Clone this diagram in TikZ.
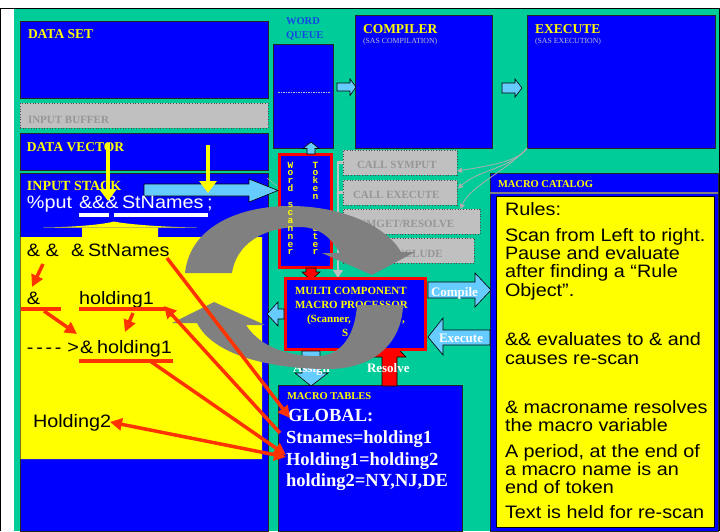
\documentclass[tikz,border=0pt]{standalone}
\usepackage{fontspec}
\setmainfont{Liberation Serif}
\newfontfamily\arial[FakeStretch=1.1]{Liberation Sans}
\newfontfamily\cour{Liberation Mono}
\usetikzlibrary{arrows.meta}
\definecolor{grn}{RGB}{0,204,153}
\definecolor{bl}{RGB}{0,0,255}
\definecolor{yl}{RGB}{255,255,0}
\definecolor{lbl}{RGB}{102,204,255}
\definecolor{rd}{RGB}{255,0,0}
\definecolor{orr}{RGB}{255,51,0}
\definecolor{lg}{RGB}{192,192,192}
\definecolor{gtx}{RGB}{150,150,150}
\definecolor{arcg}{RGB}{128,128,128}
\definecolor{wqc}{RGB}{20,70,230}
\definecolor{subc}{RGB}{190,190,210}
\definecolor{thg}{RGB}{175,175,175}
\newcommand\lettercol[1]{\vtop{\baselineskip=7.9pt\lineskiplimit=-20pt\lineskip=0pt\relax #1}}
\newcommand\lt[1]{\hbox to 6pt{\hss#1\hss}}
\begin{document}
\begin{tikzpicture}[x=1pt,y=-1pt,
  box/.style={draw=black!85,line width=0.8pt,fill=bl,inner sep=0pt,outer sep=0pt,anchor=north west},
  gbox/.style={draw=gray!60!black,dotted,line width=0.7pt,fill=lg,inner sep=0pt,outer sep=0pt,anchor=north west},
  rbox/.style={draw=rd,line width=3.5pt,fill=bl,inner sep=0pt,outer sep=0pt,anchor=north west},
  txt/.style={anchor=base west,inner sep=0pt,outer sep=0pt},
  hdr/.style={txt,text=yl,font=\bfseries\fontsize{13.5}{14}\selectfont},
  shdr/.style={txt,text=yl,font=\bfseries\fontsize{10.5}{11}\selectfont},
  gtxt/.style={txt,text=gtx,font=\bfseries\fontsize{11}{12}\selectfont},
  sub/.style={txt,text=subc,font=\fontsize{7.8}{8}\selectfont},
  tab/.style={txt,text=white,font=\bfseries\fontsize{18.5}{20}\selectfont},
  sans/.style={txt,font=\arial\fontsize{18}{20}\selectfont},
  wlbl/.style={txt,text=white,font=\bfseries\fontsize{13}{14}\selectfont},
  proc/.style={txt,text=yl,font=\bfseries\fontsize{11}{12}\selectfont},
  tokcol/.style={anchor=base,inner sep=0pt,outer sep=0pt,text=yl,font=\cour\bfseries\fontsize{9.5}{10}\selectfont},
  blk/.style={draw=black,line width=0.6pt,fill=lbl},
  redblk/.style={draw=black,line width=0.6pt,fill=rd},
  redln/.style={draw=orr,line width=3.5pt},
  redar/.style={redln,-{Triangle[length=12pt,width=12pt]}},
  redbi/.style={redln,{Triangle[length=12pt,width=12pt]}-{Triangle[length=12pt,width=12pt]}},
  yelar/.style={draw=yl,line width=3.5pt,-{Triangle[length=12pt,width=17pt]}},
  thin gray/.style={draw=thg,line width=0.8pt,-{Triangle[length=5pt,width=5pt]}},
  gcon/.style={draw=lg,line width=2.5pt},
  arcfill/.style={fill=arcg}
]
\useasboundingbox (0,0) rectangle (720,531);
% frame
\fill[white] (0,0) rectangle (720,531);
\fill[grn] (14,9.3) rectangle (718.5,531);
\draw[line width=1.6pt] (0,8.5) -- (720,8.5);
\draw[line width=1pt] (0.5,8.5) -- (0.5,531);
\draw[line width=1pt] (719.4,8.5) -- (719.4,531);

% main boxes
\node[box,minimum width=248,minimum height=77] (dataset) at (20,21) {};
\node[gbox,minimum width=248,minimum height=25] (inbuf) at (20,103) {};
\node[box,minimum width=248,minimum height=37] (datavec) at (20,133) {};
\node[box,minimum width=248,minimum height=358] (instack) at (20,173) {};
\node[box,minimum width=60,minimum height=104] (wqueue) at (273,44) {};
\node[box,minimum width=137,minimum height=133] (compiler) at (355,15) {};
\node[box,minimum width=188,minimum height=133] (execute) at (527,15) {};
\node[box,minimum width=228,minimum height=358] (catalog) at (490,173) {};
\node[box,minimum width=184,minimum height=146] (tables) at (278,385) {};
\draw[gray,line width=1.2pt] ([yshift=-20pt]catalog.north west) -- ([yshift=-20pt]catalog.north east);
\node[draw=black,line width=0.8pt,fill=yl,inner sep=0pt,anchor=north west,minimum width=218,minimum height=331] (rules) at (496,196) {};
\draw[subc,line width=0.5pt,dash pattern=on 1.5pt off 1pt] ([yshift=-48pt,xshift=5pt]wqueue.north west) -- ([yshift=-48pt,xshift=-3pt]wqueue.north east);

% yellow region of input stack
\fill[yl] (20.5,237) -- (82,237) -- (82,227.5) -- (158,227.5) -- (158,237) -- (262,237) -- (262,459) -- (20.5,459) -- cycle;
\fill[yl] (43,227.5) .. controls (80,227) and (105,224) .. (114,221.5) .. controls (125,224) and (160,227) .. (197,227.5) -- cycle;

% gray boxes
\node[gbox,minimum width=114,minimum height=25] (symput) at (343,150) {};
\node[gbox,minimum width=114,minimum height=25] (callexec) at (343,180) {};
\node[gbox,minimum width=137,minimum height=25] (symget) at (343,209) {};
\node[gbox,minimum width=131,minimum height=25] (include) at (343,238) {};
\node[gtxt] (tsymput) at (357,168) {CALL SYMPUT};
\node[gtxt] (tcallexec) at (353,198) {CALL EXECUTE};
\node[gtxt] (tsymget) at (352,227) {SYMGET/RESOLVE};
\node[gtxt] (tinclude) at (381,257) {\%INCLUDE};
\node[gtxt] (tinbuf) at (28,123) {INPUT BUFFER};

% gray bracket connector
\coordinate (brk) at (338,162.5);
\coordinate (brkend) at (338,278);
\draw[gcon] (symput.west) -- (brk) -- ([yshift=6pt]brkend);
\draw[gcon] (callexec.west) -- (callexec.west -| brk);
\fill[lg] (brkend) -- ++(-5,-8) -- ++(10,0) -- cycle;

% thin gray curves
\draw[thin gray] (execute.south west) .. controls (520,160) and (495,165) .. ([yshift=4pt]symput.south east);
\draw[thin gray] (execute.south west) .. controls (512,168) and (478,170) .. ([yshift=4pt,xshift=1pt]callexec.east);
\draw[thin gray] (execute.south west) .. controls (505,172) and (470,186) .. ([xshift=49pt]symget.north);

% word scanner box
\node[rbox,minimum width=52,minimum height=113] (wscan) at (279.5,154.5) {};
\node[tokcol] (tokenrouter) at (315.5,168) {\lettercol{\lt{T}\lt{o}\lt{k}\lt{e}\lt{n}\lt{}\lt{r}\lt{o}\lt{u}\lt{t}\lt{e}\lt{r}}};

% red arrow scanner -> processor, blue up arrow -> queue
\draw[redblk] (306,268) -- (316,268) -- (316,272) -- (320,272) -- (311,280) -- (302,272) -- (306,272) -- cycle;
\draw[blk] (307,154) -- (307,148.5) -- (303,148.5) -- (311,142) -- (319,148.5) -- (315,148.5) -- (315,154) -- cycle;

% resolve arrow (tip hidden under processor)
\draw[redblk] (382,386) -- (382,357) -- (373,357) -- (389.5,340) -- (406,357) -- (397,357) -- (397,386) -- cycle;

% processor
\node[rbox,minimum width=140,minimum height=71] (proc) at (285.5,278.5) {};
\node[proc] (p1) at (295,294) {MULTI COMPONENT};
\node[proc] (p2) at (295,308) {MACRO PROCESSOR};
\node[proc] (p3) at (307,322) {(Scanner,};
\node[proc] (p3b) at (402,322) {,};
\node[proc] (p4) at (342,336) {S};

% block arrows
\draw[blk] (144,184) -- (249,184) -- (249,179) -- (278,190.5) -- (249,202) -- (249,196) -- (144,196) -- cycle;
\draw[blk] (337,83) -- (350,83) -- (350,79) -- (356,87) -- (350,95.5) -- (350,91) -- (337,91) -- cycle;
\draw[blk] (502,83) -- (515,83) -- (515,79) -- (522,88) -- (515,97) -- (515,93) -- (502,93) -- cycle;
\draw[blk] (284,309) -- (278,309) -- (278,302) -- (267,314) -- (278,326) -- (278,319) -- (284,319) -- cycle;
\draw[blk] (428,282) -- (475,282) -- (475,273) -- (491,290) -- (475,307) -- (475,298) -- (428,298) -- cycle;
\draw[blk] (490,330) -- (443,330) -- (443,318) -- (428,337) -- (443,355) -- (443,345) -- (490,345) -- cycle;
\draw[blk] (302,351) -- (320,351) -- (320,373) -- (328,373) -- (311,386) -- (295,373) -- (302,373) -- cycle;
\draw[thg,line width=0.6pt] (267,178) -- (277,186);

% labels
\node[hdr] (tdataset) at (28,38) {DATA SET};
\node[hdr] (tdatavec) at (27,151) {DATA VECTOR};
\node[hdr,font=\bfseries\fontsize{14}{15}\selectfont] (tinstack) at (27,190) {INPUT STACK};
\node[hdr] (tcompiler) at (363,33) {COMPILER};
\node[sub] (tcomp2) at (363,43.5) {(SAS COMPILATION)};
\node[hdr] (texecute) at (535,33) {EXECUTE};
\node[sub] (texec2) at (535,43.5) {(SAS EXECUTION)};
\node[txt,text=wqc,font=\bfseries\fontsize{10.5}{11}\selectfont] (twq1) at (286,24) {WORD};
\node[txt,text=wqc,font=\bfseries\fontsize{10.5}{11}\selectfont] (twq2) at (286,38) {QUEUE};
\node[shdr] (tcatalog) at (498,187) {MACRO CATALOG};
\node[shdr] (ttables) at (287,399) {MACRO TABLES};
\node[wlbl] (tcompile) at (431,296) {Compile};
\node[wlbl] (texecl) at (439,342) {Execute};
\node[wlbl] (tresolve) at (367,372) {Resolve};
\node[wlbl] (tassign) at (293,372) {Assign};

% macro tables text
\node[tab] (g1) at (288,421) {GLOBAL:};
\node[tab] (g2) at (286,443) {Stnames=holding1};
\node[tab] (g3) at (286,465) {Holding1=holding2};
\node[tab] (g4) at (286,486.5) {holding2=NY,NJ,DE};

% rules text
\node[sans] (r1) at (505,215) {Rules:};
\node[sans] (r2) at (505,241) {Scan from Left to right.};
\node[sans] (r3) at (505,259) {Pause and evaluate};
\node[sans] (r4) at (505,277.5) {after finding a “Rule};
\node[sans] (r5) at (505,296) {Object”.};
\node[sans] (r6) at (505,345) {\&\& evaluates to \& and};
\node[sans] (r7) at (505,364) {causes re-scan};
\node[sans] (r8) at (505,413) {\& macroname resolves};
\node[sans] (r9) at (505,431.5) {the macro variable};
\node[sans] (r10) at (505,457) {A period, at the end of};
\node[sans] (r11) at (505,475.5) {a macro name is an};
\node[sans] (r12) at (505,493.5) {end of token};
\node[sans] (r13) at (505,518.5) {Text is held for re-scan};

% input stack text
\node[sans,text=white] (sput) at (27,208) {\%put};
\node[sans,text=white] (samp) at (79,208) {\&\&\&};
\node[sans,text=white] (sstn) at (122,208) {StNames};
\node[sans,text=white] (ssemi) at (207,208) {;};
\fill[white] (79,213) rectangle (109,217);
\fill[white] (114,213) rectangle (208,217);
\node[sans] (a1) at (27,256) {\& \&};
\node[sans] (a2) at (71,256) {\&};
\node[sans] (a3) at (88,256) {StNames};
\node[sans] (b1) at (27,304) {\&};
\node[sans] (b2) at (79,304) {holding1};
\node[sans] (c1) at (27,353) {{\spaceskip=2.7pt - - - -}\hspace{6pt}>};
\node[sans] (c2) at (80,353) {\&};
\node[sans] (c3) at (97,353) {holding1};
\node[sans] (d1) at (33,427) {Holding2};
\fill[orr] (20.5,307) rectangle (61,310.5);
\fill[orr] (79,307) rectangle (165,310.5);
\fill[orr] (79,359) rectangle (173,363);

% yellow arrows
\coordinate (y1s) at (108,143);
\coordinate (y1e) at (108,201);
\coordinate (y2s) at (208,145);
\coordinate (y2e) at (208,193);
\draw[yelar] (y1s) -- (y1e);
\draw[yelar] (y2s) -- (y2e);

% gray curved arrows
\fill[arcfill] (185,273) .. controls (190,226) and (240,206) .. (290,206)
  .. controls (345,206) and (388,228) .. (401,252)
  -- (415,252) -- (372,275) -- (322,253) -- (340,253)
  .. controls (330,236) and (318,227) .. (300,227)
  .. controls (262,227) and (236,245) .. (232,273) -- cycle;
\node[tokcol] (wordscanner) at (290.5,168) {\lettercol{\lt{W}\lt{o}\lt{r}\lt{d}\lt{}\lt{s}\lt{c}\lt{a}\lt{n}\lt{n}\lt{e}\lt{r}}};
\fill[arcfill] (172,323) -- (214,302) -- (265,325) -- (246,325)
  .. controls (262,350) and (295,357) .. (320,356)
  .. controls (342,354) and (355,335) .. (357,305)
  -- (403,305)
  .. controls (402,342) and (375,369) .. (328,369)
  .. controls (270,369) and (213,355) .. (197,323) -- cycle;

% red connectors
\coordinate (ra1) at (43,264);  \coordinate (ra2) at (32,287);
\coordinate (rb1) at (44,311);  \coordinate (rb2) at (77,334);
\coordinate (rc1) at (133,313); \coordinate (rc2) at (125,332);
\draw[redar] (ra1) -- (ra2);
\draw[redar] (rb1) -- (rb2);
\draw[redar] (rc1) -- (rc2);
\coordinate (lA1) at (167,258); \coordinate (lA2) at (290,418);
\coordinate (lB1) at (280,433); \coordinate (lB2) at (164,306);
\coordinate (lC1) at (150,361); \coordinate (lC2) at (286,455);
\coordinate (lD1) at (110,422); \coordinate (lD2) at (286,457);
\draw[redar] (lA1) -- (lA2);
\draw[redar] (lB1) -- (lB2);
\draw[redar] (lC1) -- (lC2);
\draw[redbi] (lD1) -- (lD2);
\end{tikzpicture}
\end{document}
